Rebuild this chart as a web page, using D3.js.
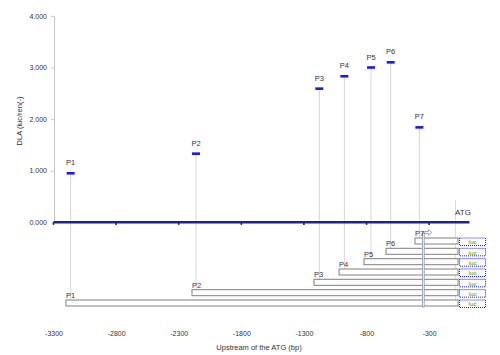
<!DOCTYPE html>
<html><head><meta charset="utf-8">
<script src="https://cdn.jsdelivr.net/npm/d3@7"></script>
<style>body{margin:0;background:#fff}svg{display:block;font-family:"Liberation Sans",Arial,sans-serif}</style>
</head><body>
<svg id="c" width="500" height="355"></svg>
<script>
// ---- data ----
const constructs = ["P1","P2","P3","P4","P5","P6","P7"];
const markerPos = [-3163,-2162,-1177,-977,-764,-607,-378];   // bp upstream of ATG
const dlaValues = [0.95,1.33,2.59,2.83,3.00,3.10,1.84];    // DLA (luc/ren)
const barStart = [-3200,-2194,-1219,-1019,-820,-644,-413];  // construct start (bp)
const barEnd = -69;                                         // construct end (bp)
const xTicks = [-3300,-2800,-2300,-1800,-1300,-800,-300];
const yTicks = [0,1,2,3,4];
const axisEnd = 22;

const svg = d3.select("#c");
const x = d3.scaleLinear().domain([-3300,0]).range([53.5,466.7]);
const y = d3.scaleLinear().domain([0,4]).range([222.3,15.9]);
const row = d3.scalePoint().domain(["P7","P6","P5","P4","P3","P2","P1"]).range([238,300]);

// y axis
const ya = svg.append("g").attr("transform","translate(54,0)")
  .call(d3.axisLeft(y).tickValues(yTicks).tickFormat(d3.format(".3f")).tickSize(3).tickSizeOuter(0).tickPadding(4));
ya.select(".domain").attr("stroke","#c8c8c8");
ya.selectAll(".tick line").attr("stroke","#c8c8c8");
ya.selectAll("text").attr("font-size",7).attr("fill","#333");
svg.append("text").attr("transform","translate(22,121) rotate(-90)").attr("text-anchor","middle")
  .attr("font-size",7.5).attr("fill","#333").text("DLA (luc/ren(-)");

// x axis labels
const xa = svg.append("g").attr("transform","translate(0,334)")
  .call(d3.axisBottom(x).tickValues(xTicks).tickFormat(d=>String(d)).tickSize(0).tickPadding(0));
xa.select(".domain").remove();
xa.selectAll("text").attr("font-size",7).attr("fill","#333").attr("dy","0.35em");
svg.append("text").attr("x",259).attr("y",350).attr("text-anchor","middle")
  .attr("font-size",7.5).attr("fill","#333").text("Upstream of the ATG (bp)");

// drop lines from markers to construct bars
const data = constructs.map((c,i)=>({c, pos:markerPos[i], v:dlaValues[i], s:barStart[i]}));
svg.append("g").selectAll("line").data(data).join("line")
  .attr("x1",d=>x(d.pos)).attr("x2",d=>x(d.pos))
  .attr("y1",d=>y(d.v)).attr("y2",d=>row(d.c))
  .attr("stroke","#d6d6d6").attr("stroke-width",1);
// ATG drop line
svg.append("line").attr("x1",x(barEnd)-2.5).attr("x2",x(barEnd)-2.5).attr("y1",200).attr("y2",307)
  .attr("stroke","#dcdcdc").attr("stroke-width",1);

// baseline (navy) with ticks
svg.append("line").attr("x1",x(-3300)).attr("x2",x(axisEnd)).attr("y1",y(0)).attr("y2",y(0))
  .attr("stroke","#1f1f99").attr("stroke-width",2.4);
svg.append("g").selectAll("line").data(xTicks).join("line")
  .attr("x1",d=>x(d)).attr("x2",d=>x(d)).attr("y1",y(0)).attr("y2",y(0)+2.6)
  .attr("stroke","#1f1f99").attr("stroke-width",1.6);
svg.append("text").attr("x",463).attr("y",215).attr("text-anchor","middle")
  .attr("font-size",8).attr("fill","#333").text("ATG");

// markers
svg.append("g").selectAll("rect").data(data).join("rect")
  .attr("x",d=>x(d.pos)-4).attr("y",d=>y(d.v)-1.3).attr("width",8).attr("height",2.6)
  .attr("fill","#1a1aee");
svg.append("g").selectAll("text").data(data).join("text")
  .attr("x",d=>x(d.pos)).attr("y",d=>y(d.v)-8).attr("text-anchor","middle")
  .attr("font-size",7.5).attr("fill","#333").text(d=>d.c);

// construct bars
svg.append("g").selectAll("rect").data(data).join("rect")
  .attr("x",d=>x(d.s)).attr("y",d=>row(d.c)).attr("width",d=>x(barEnd)-x(d.s)).attr("height",6)
  .attr("fill","#fff").attr("stroke","#8a8a8a").attr("stroke-width",1.1);
svg.append("g").selectAll("text").data(data.filter(d=>d.c!=="P7")).join("text")
  .attr("x",d=>x(d.s)).attr("y",d=>row(d.c)-2).attr("font-size",7.5).attr("fill","#333").text(d=>d.c);

// luc boxes
const lucX = x(barEnd)+1.5;
const lucG = svg.append("g").selectAll("g").data(data).join("g")
  .attr("transform",d=>`translate(${lucX},${row(d.c)})`);
lucG.append("rect").attr("width",26).attr("height",7.5).attr("fill","#fff")
  .attr("stroke","#1a1aee").attr("stroke-width",1).attr("stroke-dasharray","1,1");
lucG.append("text").attr("x",13).attr("y",6.4).attr("text-anchor","middle")
  .attr("font-size",6.2).attr("fill","#2a9a2a").text("luc");

// TSS marker of P7
const tssX = x(-378)+3;
svg.append("rect").attr("x",tssX).attr("y",233).attr("width",1.8).attr("height",74)
  .attr("fill","#fff").attr("stroke","#8090aa").attr("stroke-width",0.8);
svg.append("path")
  .attr("d",`M${tssX+2},${231.5}h4v-1.8l3.5,2.8l-3.5,2.8v-1.8h-4z`)
  .attr("fill","#fff").attr("stroke","#7080c0").attr("stroke-width",0.7);
svg.append("text").attr("x",x(-413)).attr("y",236).attr("font-size",7.5).attr("fill","#333").text("P7");
</script>
</body></html>
